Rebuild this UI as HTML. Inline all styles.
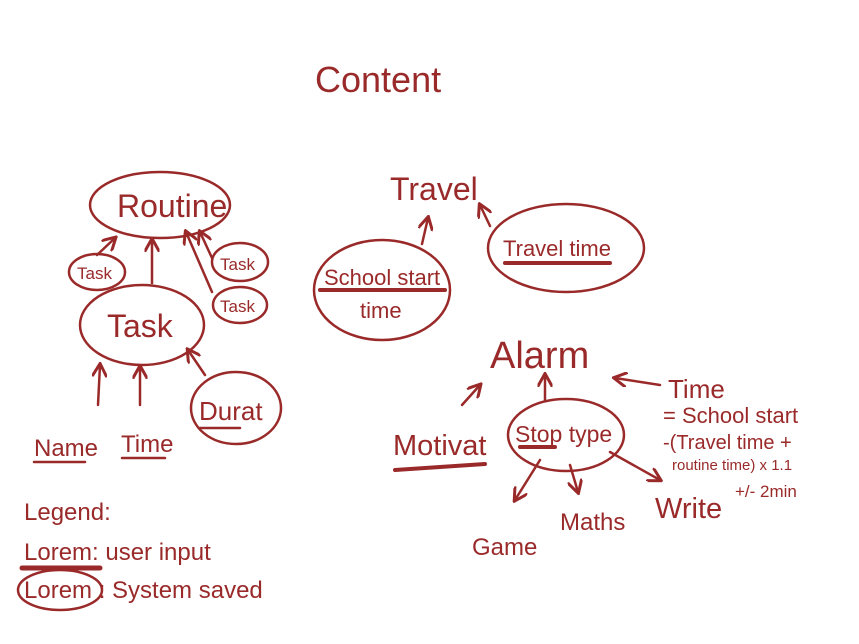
<!DOCTYPE html>
<html><head><meta charset="utf-8"><style>
html,body{margin:0;padding:0;background:#fff;}
svg{display:block;}
text{font-family:"Liberation Sans",sans-serif;fill:#9a2a2a;}
</style></head><body>
<svg width="859" height="644" viewBox="0 0 859 644" xmlns="http://www.w3.org/2000/svg">
<defs><marker id="a" viewBox="0 0 10 10" refX="8" refY="5" markerWidth="6" markerHeight="6" orient="auto"><path d="M0,0 L9,5 L0,10" fill="none" stroke="#9a2a2a" stroke-width="2"/></marker></defs>
<g stroke="#9a2a2a" stroke-width="2.5" fill="none" stroke-linecap="round">
<ellipse cx="160" cy="205" rx="70" ry="33"/>
<ellipse cx="97" cy="272" rx="28" ry="18"/>
<ellipse cx="240" cy="262" rx="28" ry="19"/>
<ellipse cx="240" cy="305" rx="27" ry="18"/>
<ellipse cx="142" cy="325" rx="62" ry="40"/>
<ellipse cx="236" cy="408" rx="45" ry="36"/>
<line x1="97" y1="255" x2="115" y2="238" marker-end="url(#a)"/>
<line x1="152" y1="283" x2="152" y2="240" marker-end="url(#a)"/>
<line x1="212" y1="258" x2="200" y2="232" marker-end="url(#a)"/>
<line x1="212" y1="292" x2="186" y2="232" marker-end="url(#a)"/>
<line x1="98" y1="405" x2="100" y2="365" marker-end="url(#a)"/>
<line x1="140" y1="405" x2="140" y2="367" marker-end="url(#a)"/>
<line x1="205" y1="375" x2="188" y2="350" marker-end="url(#a)"/>
<line x1="34" y1="462" x2="85" y2="462"/>
<line x1="122" y1="458" x2="165" y2="458"/>
<line x1="200" y1="428" x2="240" y2="428"/>
<line x1="22" y1="568" x2="100" y2="568" stroke-width="5"/>
<ellipse cx="60" cy="590" rx="42" ry="20"/>
<ellipse cx="382" cy="290" rx="68" ry="50"/>
<ellipse cx="566" cy="248" rx="78" ry="44"/>
<line x1="422" y1="244" x2="428" y2="218" marker-end="url(#a)"/>
<line x1="490" y1="226" x2="480" y2="205" marker-end="url(#a)"/>
<line x1="320" y1="290" x2="445" y2="290" stroke-width="4"/>
<line x1="505" y1="263" x2="610" y2="263" stroke-width="4"/>
<ellipse cx="566" cy="435" rx="58" ry="36"/>
<line x1="395" y1="470" x2="485" y2="464" stroke-width="4"/>
<line x1="520" y1="447" x2="555" y2="447" stroke-width="4"/>
<line x1="462" y1="405" x2="480" y2="385" marker-end="url(#a)"/>
<line x1="545" y1="400" x2="545" y2="375" marker-end="url(#a)"/>
<line x1="660" y1="385" x2="615" y2="378" marker-end="url(#a)"/>
<line x1="540" y1="460" x2="515" y2="500" marker-end="url(#a)"/>
<line x1="570" y1="465" x2="578" y2="492" marker-end="url(#a)"/>
<line x1="610" y1="452" x2="660" y2="480" marker-end="url(#a)"/>
</g>
<text x="315" y="92" font-size="36">Content</text>
<text x="117" y="217" font-size="32">Routine</text>
<text x="77" y="279" font-size="17">Task</text>
<text x="220" y="270" font-size="17">Task</text>
<text x="220" y="312" font-size="17">Task</text>
<text x="107" y="337" font-size="32">Task</text>
<text x="34" y="456" font-size="24">Name</text>
<text x="121" y="452" font-size="24">Time</text>
<text x="199" y="420" font-size="26">Durat</text>
<text x="24" y="520" font-size="24">Legend:</text>
<text x="24" y="560" font-size="24">Lorem: user input</text>
<text x="24" y="598" font-size="24">Lorem : System saved</text>
<text x="390" y="200" font-size="32">Travel</text>
<text x="324" y="285" font-size="22">School start</text>
<text x="360" y="318" font-size="22">time</text>
<text x="503" y="256" font-size="22">Travel time</text>
<text x="490" y="368" font-size="38">Alarm</text>
<text x="393" y="455" font-size="29">Motivat</text>
<text x="515" y="442" font-size="23">Stop type</text>
<text x="668" y="398" font-size="26">Time</text>
<text x="663" y="423" font-size="22">= School start</text>
<text x="663" y="449" font-size="20">-(Travel time +</text>
<text x="672" y="470" font-size="15">routine time) x 1.1</text>
<text x="735" y="497" font-size="17">+/- 2min</text>
<text x="472" y="555" font-size="24">Game</text>
<text x="560" y="530" font-size="24">Maths</text>
<text x="655" y="518" font-size="29">Write</text>
</svg>
</body></html>
